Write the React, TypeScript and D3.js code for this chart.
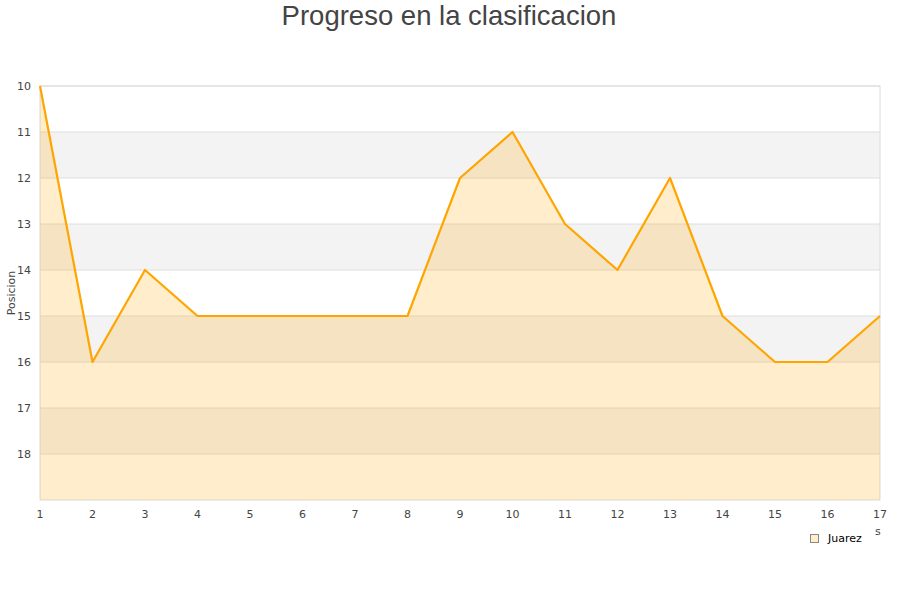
import React from "react";
import * as d3 from "d3";

// Matchday numbers and league position for each round
const jornadas: number[] = [1, 2, 3, 4, 5, 6, 7, 8, 9, 10, 11, 12, 13, 14, 15, 16, 17];
const posiciones: number[] = [10, 16, 14, 15, 15, 15, 15, 15, 12, 11, 13, 14, 12, 15, 16, 16, 15];
const yTicks: number[] = [10, 11, 12, 13, 14, 15, 16, 17, 18];
const serieNombre = "Juarez";
const titulo = "Progreso en la clasificacion";
const ejeY = "Posicion";

const W = 900;
const H = 600;
const M = { left: 40, right: 880, top: 86, bottom: 500 };

export default function App() {
  const x = d3.scaleLinear().domain([1, 17]).range([M.left, M.right]);
  const y = d3.scaleLinear().domain([10, 19]).range([M.top, M.bottom]);

  const pts = jornadas.map((j, i) => [j, posiciones[i]] as [number, number]);
  const line = d3.line<[number, number]>().x((d) => x(d[0])).y((d) => y(d[1]));
  const area = d3
    .area<[number, number]>()
    .x((d) => x(d[0]))
    .y0(y(19))
    .y1((d) => y(d[1]));

  const bands = d3.range(10, 19);
  const font = "'DejaVu Sans', Verdana, sans-serif";

  return (
    <svg width={W} height={H} style={{ position: "absolute", left: 0, top: 0 }}>
      <rect x={0} y={0} width={W} height={H} fill="#fff" />
      <text x={449} y={25} textAnchor="middle" fontFamily="'Liberation Sans', Arial, sans-serif" fontSize={27.5} fill="#444">
        {titulo}
      </text>

      {/* alternating background bands */}
      {bands.map((b, i) => (
        <rect key={b} x={M.left} y={y(b)} width={M.right - M.left} height={y(b + 1) - y(b)} fill={i % 2 === 1 ? "#f3f3f3" : "#ffffff"} />
      ))}
      {/* gridlines */}
      {bands.map((b) => (
        <line key={"g" + b} x1={M.left} x2={M.right} y1={y(b)} y2={y(b)} stroke="#dedede" strokeWidth={1} />
      ))}
      <rect x={M.left} y={M.top} width={M.right - M.left} height={M.bottom - M.top} fill="none" stroke="#dcdcdc" strokeWidth={1} />

      <path d={area(pts) || ""} fill="#ffa500" fillOpacity={0.2} />
      <path d={line(pts) || ""} fill="none" stroke="#ffa500" strokeWidth={2.2} strokeLinejoin="round" />

      {yTicks.map((t) => (
        <text key={"y" + t} x={31} y={y(t) + 4} textAnchor="end" fontFamily={font} fontSize={11} fill="#444">
          {t}
        </text>
      ))}
      {jornadas.map((j) => (
        <text key={"x" + j} x={x(j)} y={518} textAnchor="middle" fontFamily={font} fontSize={11} fill="#444">
          {j}
        </text>
      ))}

      <text transform={`translate(15,${(M.top + M.bottom) / 2}) rotate(-90)`} textAnchor="middle" fontFamily={font} fontSize={11} fill="#444">
        {ejeY}
      </text>

      <text x={875} y={535} fontFamily={font} fontSize={11} fill="#444">s</text>

      <rect x={810.5} y={534.5} width={8} height={8} fill="#ffedcc" stroke="#888" strokeWidth={1} />
      <text x={828} y={542} fontFamily={font} fontSize={11} fill="#000">
        {serieNombre}
      </text>
    </svg>
  );
}
